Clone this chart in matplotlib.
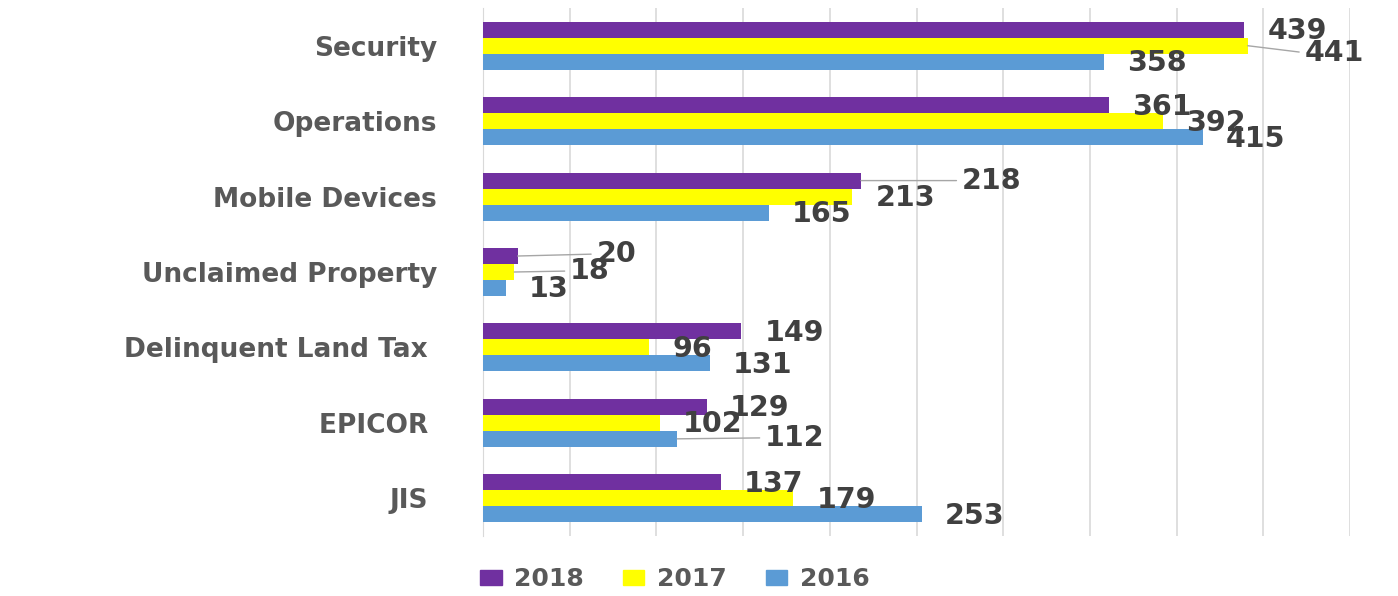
import matplotlib
matplotlib.use("Agg")
import matplotlib.pyplot as plt
from matplotlib.patches import Patch
import numpy as np

categories = ["Security", "Operations", "Mobile Devices", "Unclaimed Property",
              "Delinquent Land Tax ", "EPICOR ", "JIS "]
series_names = ["2018", "2017", "2016"]
values_2018 = [439, 361, 218, 20, 149, 129, 137]
values_2017 = [441, 392, 213, 18, 96, 102, 179]
values_2016 = [358, 415, 165, 13, 131, 112, 253]

colors = ["#7030A0", "#FFFF00", "#5B9BD5"]

# label offsets in pixels (dx right, dy down) relative to bar end; leader flag
default_off = (23, 1.5, False)
special_off = {
    (0, 1): (57, 7, True),
    (2, 0): (101, 0, True),
    (3, 0): (79, -2, True),
    (3, 1): (56, -1, True),
    (5, 2): (88, -1, True),
}

W, H = 1398, 596
fig = plt.figure(figsize=(W / 100, H / 100), dpi=100)
ax = fig.add_axes([483 / W, 1 - 536 / H, (1350 - 483) / W, (536 - 8) / H])

all_vals = [values_2018, values_2017, values_2016]
y = np.arange(len(categories))
h = 16 / 75.5
offsets = [-h, 0, h]

for s, (vals, col) in enumerate(zip(all_vals, colors)):
    ax.barh(y + offsets[s], vals, height=h, color=col, label=series_names[s], zorder=3)

ax.set_xlim(0, 500)
ax.set_ylim(6.5, -0.5)
ax.set_xticks(np.arange(0, 501, 50))
ax.set_xticklabels([])
ax.tick_params(axis="x", length=0)
ax.tick_params(axis="y", length=0, pad=33)
ax.set_yticks(y)
ax.set_yticklabels(categories, fontsize=19, fontweight="bold", color="#595959")
ax.grid(axis="x", color="#D9D9D9", lw=1.2, zorder=0)
for sp in ["top", "right", "bottom"]:
    ax.spines[sp].set_visible(False)
ax.spines["left"].set_color("#D9D9D9")

for s, vals in enumerate(all_vals):
    for i, v in enumerate(vals):
        dx, dy, leader = special_off.get((i, s), default_off)
        kw = {}
        if leader:
            kw["arrowprops"] = dict(arrowstyle="-", color="#A6A6A6", lw=1,
                                    shrinkA=2, shrinkB=0, relpos=(0, 0.5))
        ax.annotate(str(v), xy=(v, y[i] + offsets[s]),
                    xytext=(dx * 0.72, -dy * 0.72), textcoords="offset points",
                    ha="left", va="center", fontsize=20.5, fontweight="bold",
                    color="#404040", zorder=5, **kw)

handles = [Patch(color=c, label=n) for c, n in zip(colors, series_names)]
leg = fig.legend(handles=handles, loc="center", bbox_to_anchor=(675 / W, 1 - 579 / H),
                 ncol=3, frameon=False, handlelength=0.85, handleheight=0.55,
                 columnspacing=1.55, handletextpad=0.52,
                 prop={"size": 18, "weight": "bold"})
for t in leg.get_texts():
    t.set_color("#595959")

fig.savefig("out.png", dpi=100)
